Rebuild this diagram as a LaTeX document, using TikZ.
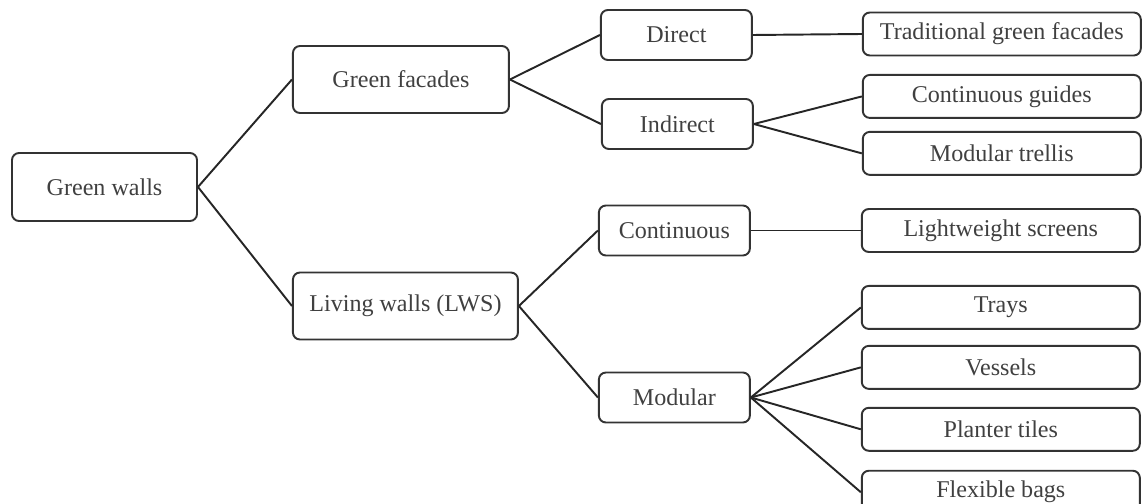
\documentclass[tikz,border=0pt]{standalone}
\usepackage{fontspec}
\setmainfont{Liberation Serif}
\usepackage{tikz}
\usetikzlibrary{positioning}
\tikzset{
  box/.style={rectangle, draw=black!80, line width=1.1pt, rounded corners=4pt,
    align=center, text=black!75, font=\fontsize{13.7}{16}\selectfont,
    inner sep=2pt, fill=white},
  rootbox/.style={box, minimum width=3.7cm, minimum height=1.36cm},
  typebox/.style={box, minimum height=1.34cm},
  subbox/.style={box, minimum width=3.02cm, minimum height=1.0cm},
  leafbox/.style={box, minimum width=5.56cm, minimum height=0.86cm},
  link/.style={draw=black!85, line width=1.1pt},
}
\begin{document}
\begin{tikzpicture}[node distance=0.3cm and 1.8cm]
  \useasboundingbox (0,0) rectangle (22.9,-10.08);
  % Root
  \node[rootbox] (gw) at (2.09,-3.74) {Green walls};

  % Types
  \node[typebox, minimum width=4.32cm, right=1.88cm of gw, yshift=2.15cm] (gf) {Green facades};
  \node[typebox, minimum width=4.5cm, right=1.88cm of gw, yshift=-2.38cm] (lw) {Living walls (LWS)};

  % Sub types
  \node[subbox, right=1.8cm of gf, yshift=0.89cm] (direct) {Direct};
  \node[subbox, right=1.82cm of gf, yshift=-0.89cm] (indirect) {Indirect};
  \node[subbox, right=1.58cm of lw, yshift=1.51cm] (cont) {Continuous};
  \node[subbox, right=1.58cm of lw, yshift=-1.83cm] (modular) {Modular};

  % Systems
  \node[leafbox, right=2.18cm of direct, yshift=0.02cm] (trad) {Traditional green facades};
  \node[leafbox, below=0.35cm of trad] (guides) {Continuous guides};
  \node[leafbox, below=0.24cm of guides] (trellis) {Modular trellis};
  \node[leafbox, right=2.2cm of cont] (screens) {Lightweight screens};
  \node[leafbox, below=0.64cm of screens] (trays) {Trays};
  \node[leafbox, below=0.3cm of trays] (vessels) {Vessels};
  \node[leafbox, below=0.34cm of vessels] (tiles) {Planter tiles};
  \node[leafbox, below=0.36cm of tiles] (bags) {Flexible bags};

  \draw[link] (gw.east) -- (gf.west);
  \draw[link] (gw.east) -- (lw.west);
  \draw[link] (gf.east) -- (direct.west);
  \draw[link] (gf.east) -- (indirect.west);
  \draw[link] (lw.east) -- (cont.west);
  \draw[link] (lw.east) -- (modular.west);
  \draw[link] (direct.east) -- (trad.west);
  \draw[link] (indirect.east) -- (guides.west);
  \draw[link] (indirect.east) -- (trellis.west);
  \draw[link] (cont.east) -- (screens.west);
  \draw[link] (modular.east) -- (trays.west);
  \draw[link] (modular.east) -- (vessels.west);
  \draw[link] (modular.east) -- (tiles.west);
  \draw[link] (modular.east) -- (bags.west);
\end{tikzpicture}
\end{document}
